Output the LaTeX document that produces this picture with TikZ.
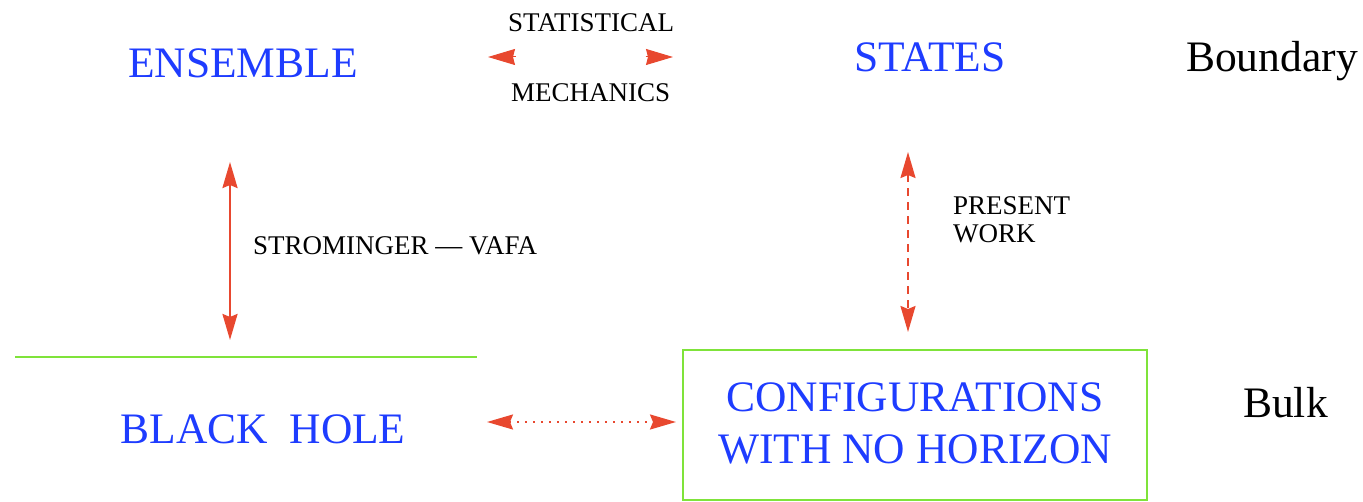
\documentclass[tikz,border=0pt]{standalone}
\usepackage{fontspec}
\setmainfont{Liberation Serif}
\usetikzlibrary{arrows.meta}
\definecolor{tblue}{HTML}{1E3CFF}
\definecolor{tred}{HTML}{E8482F}
\definecolor{tgreen}{HTML}{7FE33A}
\tikzset{
  big/.style={font=\fontsize{43.5}{48}\selectfont, text=tblue, inner sep=0pt, anchor=base},
  bigblack/.style={font=\fontsize{43.5}{48}\selectfont, text=black, inner sep=0pt, anchor=base west},
  small/.style={font=\fontsize{27}{30}\selectfont, text=black, inner sep=0pt, anchor=base west},
  tip/.style={-{Stealth[inset=2pt,length=27pt,width=16pt]}},
  redline/.style={draw=tred, line width=2.5pt},
  dbl/.style={{Stealth[inset=3pt,length=26pt,width=15pt]}-{Stealth[inset=3pt,length=26pt,width=15pt]}},
}
\begin{document}
\begin{tikzpicture}[x=1pt,y=-1pt]
\useasboundingbox (0,0) rectangle (1363,502);
% texts
\node[big] (ens) at (243,78) {ENSEMBLE};
\node[big] (sta) at (930,72) {STATES};
\node[bigblack] (bnd) at (1186,72) {Boundary};
\node[big] (bh) at (263,443) {BLACK\ \ HOLE};
\node[bigblack] (bulk) at (1243,418) {Bulk};
\node[small] (stat) at (508,32) {STATISTICAL};
\node[small] (mech) at (511,102) {MECHANICS};
\node[small] (sv) at (253,255) {STROMINGER --- VAFA};
\node[small] (pres) at (953,215) {PRESENT};
\node[small] (work) at (953,243) {WORK};
% box
\node[draw=tgreen, line width=2pt, minimum width=464pt, minimum height=150pt, inner sep=0pt] (box) at (915,425) {};
\node[big] (conf1) at (box.center |- 0,412) {CONFIGURATIONS};
\node[big] (conf2) at (box.center |- 0,463) {WITH NO HORIZON};
% green line
\coordinate (gl1) at (15,357);
\coordinate (gl2) at (477,357);
\draw[tgreen, line width=2pt] (gl1) -- (gl2);
% top arrowheads
\coordinate (ta1) at (515.5,57);
\coordinate (ta1t) at (488,57);
\coordinate (ta2) at (645.5,57);
\coordinate (ta2t) at (673,57);
\draw[redline, line width=1pt, tip, tred] (ta1) -- (ta1t);
\draw[redline, line width=1pt, tip, tred] (ta2) -- (ta2t);
% vertical solid arrow
\coordinate (v1) at (230,162);
\coordinate (v2) at (230,340);
\draw[redline, dbl, tred] (v1) -- (v2);
% dashed arrow
\coordinate (d1) at (908,152);
\coordinate (d2) at (908,332);
\draw[redline, dbl, tred, line width=2pt, dash pattern=on 8pt off 6pt] (d1) -- (d2);
% dotted arrow
\coordinate (h1) at (487,422);
\coordinate (h2) at (box.west |- 0,422);
\draw[redline, dbl, tred, line width=2pt, dash pattern=on 2pt off 6pt] (h1) -- ([xshift=-6pt]h2);
\end{tikzpicture}
\end{document}
